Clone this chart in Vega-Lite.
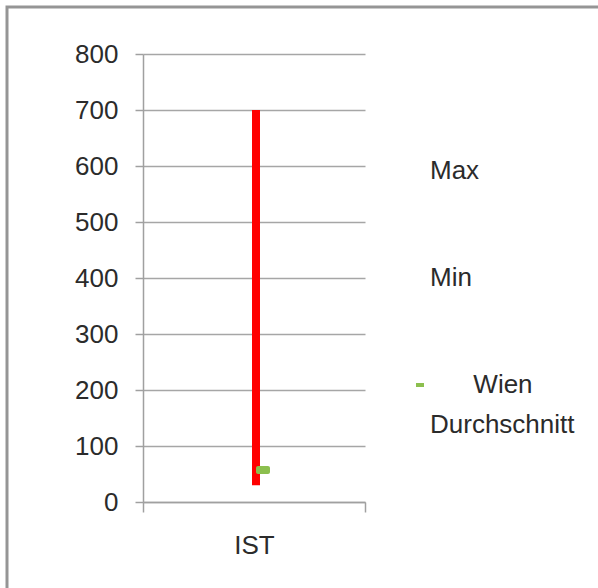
{
  "$schema": "https://vega.github.io/schema/vega-lite/v6.json",
  "autosize": "none",
  "padding": {"left": 7, "top": 7, "right": 0, "bottom": 0},
  "width": 591,
  "height": 581,
  "background": "white",
  "config": {
    "view": {"stroke": "#959595", "strokeWidth": 3, "strokeDash": [591, 1172, 581]},
    "font": "Liberation Sans, Arial, sans-serif",
    "axis": {
      "labelFont": "Liberation Sans, Arial, sans-serif",
      "labelFontSize": 26,
      "labelColor": "#2b2b2b",
      "domainColor": "#a0a0a0",
      "domainWidth": 1.5,
      "tickColor": "#a0a0a0",
      "tickWidth": 1.5,
      "gridColor": "#a6a6a6",
      "gridWidth": 1.5,
      "gridOpacity": 1,
      "title": null
    }
  },
  "data": {
    "values": [
      {"category": "IST", "series": "Max", "value": 700},
      {"category": "IST", "series": "Min", "value": 30},
      {"category": "IST", "series": "Wien Durchschnitt", "value": 57}
    ]
  },
  "encoding": {
    "x": {
      "field": "category",
      "type": "nominal",
      "scale": {"type": "band", "range": [136, 358], "paddingInner": 0, "paddingOuter": 0},
      "axis": {
        "orient": "bottom",
        "offset": -86,
        "labelAngle": 0,
        "labelDx": 4,
        "tickBand": "extent",
        "tickSize": 10,
        "labelPadding": 20,
        "grid": false,
        "domain": true
      }
    }
  },
  "layer": [
    {
      "transform": [{"pivot": "series", "value": "value", "groupby": ["category"]}],
      "mark": {"type": "rule", "color": "#ff0000", "strokeWidth": 8, "xOffset": 2},
      "encoding": {
        "y": {
          "field": "Min",
          "type": "quantitative",
          "scale": {"domain": [0, 800], "range": [495, 47], "nice": false},
          "axis": {
            "offset": -136,
            "values": [0, 100, 200, 300, 400, 500, 600, 700, 800],
            "tickSize": 8,
            "labelPadding": 17,
            "grid": true
          }
        },
        "y2": {"field": "Max"}
      }
    },
    {
      "mark": {"type": "tick", "thickness": 8, "size": 14, "xOffset": 9, "cornerRadius": 2, "opacity": 1},
      "encoding": {
        "y": {"field": "value", "type": "quantitative"},
        "color": {
          "field": "series",
          "type": "nominal",
          "scale": {"domain": ["Max", "Min", "Wien Durchschnitt"], "range": ["transparent", "transparent", "#8cbf4e"]},
          "legend": {
            "orient": "none",
            "legendX": 400,
            "legendY": 151,
            "title": null,
            "symbolType": "M-1,-0.5H1V0.5H-1Z",
            "symbolSize": 64,
            "symbolStrokeWidth": 0,
            "symbolOpacity": 1,
            "labelFont": "Liberation Sans, Arial, sans-serif",
            "labelFontSize": 26,
            "labelColor": "#2b2b2b",
            "labelOffset": -3,
            "labelLimit": 300,
            "rowPadding": 81,
            "labelExpr": "datum.label == 'Wien Durchschnitt' ? ['\u200b\u00a0\u00a0\u00a0\u00a0\u00a0\u00a0Wien', 'Durchschnitt'] : datum.label",
            "encode": {"labels": {"update": {"lineHeight": {"value": 40}}}}
          }
        }
      }
    }
  ]
}
